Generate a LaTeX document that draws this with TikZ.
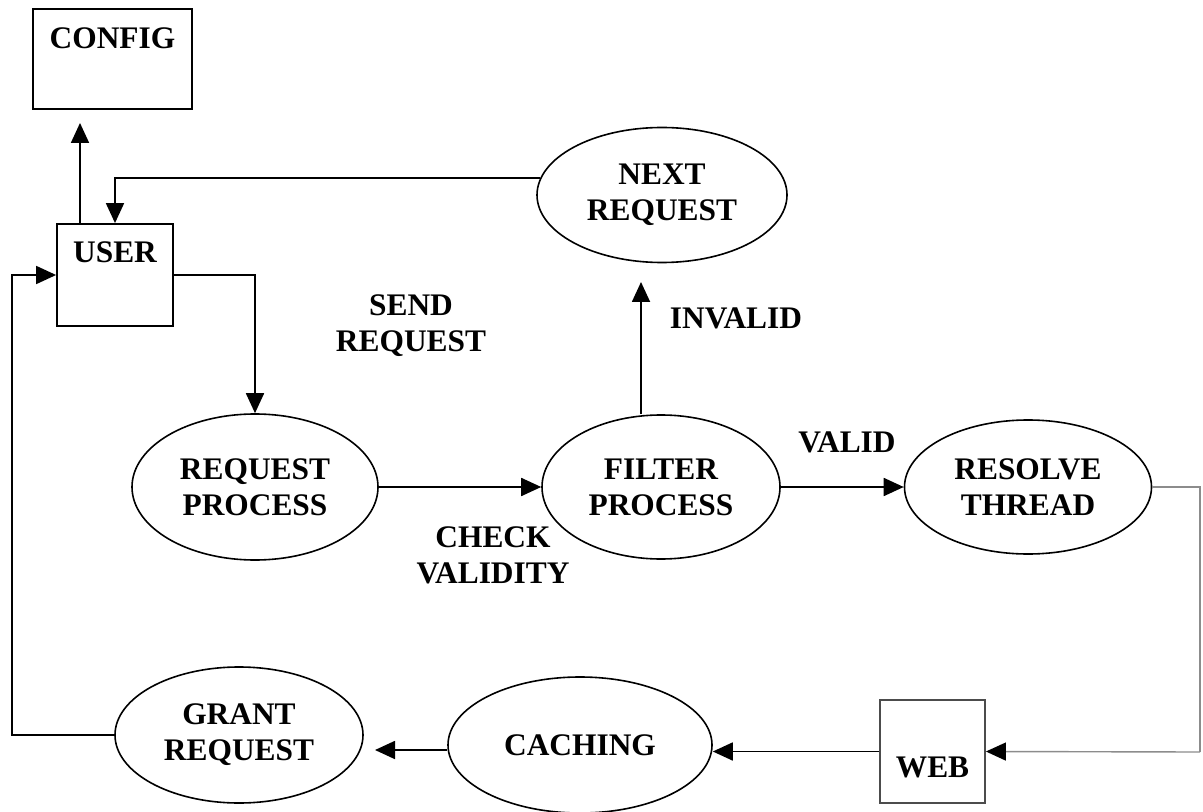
\documentclass[tikz,border=0pt]{standalone}
\usepackage{fontspec}
\setmainfont{Liberation Serif}
\usetikzlibrary{shapes.geometric,arrows.meta,calc}
\begin{document}
\begin{tikzpicture}[x=0.5pt,y=-0.5pt,
  every node/.style={font=\fontsize{15.7}{18}\selectfont\bfseries, align=center, inner sep=0pt},
  boxnode/.style={draw, line width=0.9pt, rectangle},
  ell/.style={draw, line width=0.8pt, ellipse},
  conn/.style={line width=0.9pt},
  arr/.style={conn, -{Triangle[length=10pt,width=9pt]}},
  faint/.style={line width=0.7pt, draw=black!45}
]
\useasboundingbox (0,0) rectangle (1203,812);

% boxes
\node[boxnode, minimum width=79.5pt, minimum height=50pt] (config) at (112.5,59) {};
\node (configtxt) at (112.5,38) {CONFIG};
\node[boxnode, minimum width=58pt, minimum height=51pt] (user) at (115,275) {};
\node (usertxt) at (115,252) {USER};
\node[boxnode, draw=black!70, minimum width=52.5pt, minimum height=51.5pt] (web) at (932.5,751.5) {};
\node (webtxt) at (932.5,767) {WEB};

% ellipses
\node[ell, minimum width=125pt, minimum height=67.5pt] (nextreq) at (662,195) {NEXT\\REQUEST};
\node[ell, minimum width=123pt, minimum height=73pt] (reqproc) at (255,487) {REQUEST\\PROCESS};
\node[ell, minimum width=119pt, minimum height=72pt] (filter) at (661,487) {FILTER\\PROCESS};
\node[ell, minimum width=123.5pt, minimum height=67pt] (resolve) at (1028,487) {RESOLVE\\THREAD};
\node[ell, minimum width=132pt, minimum height=68pt] (caching) at (580,745) {CACHING};
\node[ell, minimum width=124pt, minimum height=68pt] (grant) at (239,735) {GRANT\\REQUEST};

% labels
\node (sendlbl) at (411,326) {SEND\\REQUEST};
\node (invalidlbl) at (736,318) {INVALID};
\node (validlbl) at (847,442) {VALID};
\node (checklbl) at (493,555) {CHECK\\VALIDITY};

% helper coordinates
\coordinate (cfgtip) at (80,123);
\coordinate (invtip) at (641,282);
\coordinate (rcorner) at (1200,752);
\coordinate (granttip) at (375,750);
\coordinate (lcorner) at (12,500);

% connectors
\draw[arr] (user.north -| cfgtip) -- (cfgtip);
\draw[arr] (nextreq.172.5) -| (user.north);
\draw[arr] (user.east) -| (reqproc.north);
\draw[arr] (reqproc.east) -- (filter.west);
\draw[arr] (filter.north -| invtip) -- (invtip);
\draw[arr] (filter.east) -- (resolve.west);
\draw[faint] (resolve.east) -| (rcorner);
\draw[faint, -{Triangle[length=10pt,width=9pt,color=black]}] (rcorner) -- (web.east);
\draw[arr] (web.west) -- (web.west -| caching.east);
\draw[arr] (caching.west |- granttip) -- (granttip);
\draw[arr] (grant.west) -| (lcorner) |- (user.west);
\end{tikzpicture}
\end{document}
